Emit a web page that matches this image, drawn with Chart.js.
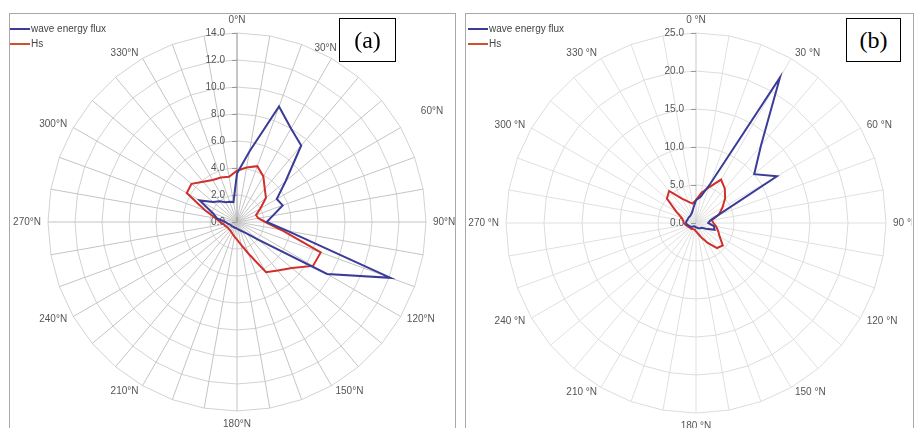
<!DOCTYPE html>
<html>
<head>
<meta charset="utf-8">
<script src="https://cdn.jsdelivr.net/npm/chart.js@4.4.0/dist/chart.umd.min.js"></script>
<style>
  body { margin: 0; background: #fff; width: 916px; height: 428px; overflow: hidden; position: relative;
         font-family: "Liberation Sans", Arial, sans-serif; }
  .panel { position: absolute; top: 13px; height: 430px; border: 1px solid #a8a8a8; box-sizing: border-box; }
  canvas { position: absolute; }
  .leg { position: absolute; font-size: 10px; color: #444; line-height: 12px; white-space: nowrap; }
  .sw { display: inline-block; width: 20px; height: 2px; vertical-align: middle; margin-right: 1px; }
  .tag { position: absolute; border: 1px solid #000; background: #fff; box-sizing: border-box;
         font: 24px "Liberation Serif", "Times New Roman", serif; color: #000;
         display: flex; align-items: center; justify-content: center; }
</style>
</head>
<body>
<div class="panel" style="left:9px;width:447px"></div>
<div class="panel" style="left:465px;width:449px"></div>

<canvas id="chartA" width="446" height="415" style="left:9px;top:13px"></canvas>
<canvas id="chartB" width="447" height="415" style="left:465px;top:13px"></canvas>

<div class="leg" style="left:10px;top:23px"><span class="sw" style="background:#3b3b98"></span>wave energy flux</div>
<div class="leg" style="left:10px;top:38px"><span class="sw" style="background:#d0502c"></span>Hs</div>
<div class="leg" style="left:468px;top:23px"><span class="sw" style="background:#3b3b98"></span>wave energy flux</div>
<div class="leg" style="left:468px;top:38px"><span class="sw" style="background:#d0502c"></span>Hs</div>

<div class="tag" style="left:339px;top:18px;width:57px;height:44px">(a)</div>
<div class="tag" style="left:846px;top:18px;width:55px;height:44px">(b)</div>

<script>
// wave directions (degrees from north), one spoke every 10 degrees
const directions = [0, 10, 20, 30, 40, 50, 60, 70, 80, 90, 100, 110, 120, 130, 140, 150, 160, 170,
                    180, 190, 200, 210, 220, 230, 240, 250, 260, 270, 280, 290, 300, 310, 320, 330, 340, 350];

// panel (a)
const fluxA = [3.6, 5.3, 9.1, 8.0, 7.4, 4.7, 3.4, 3.6, 2.7, 2.2, 3.8, 12.1, 7.7, 2.0, 1.1, 0.8, 0.65, 0.55,
               0.5, 0.45, 0.45, 0.45, 0.45, 0.5, 0.5, 0.55, 0.7, 0.85, 1.5, 1.9, 3.2, 2.3, 2.0, 1.7, 1.6, 1.5];
const hsA = [3.8, 4.1, 4.4, 3.9, 3.2, 2.8, 2.0, 1.5, 1.6, 2.1, 3.3, 6.6, 6.5, 5.3, 4.7, 4.3, 2.5, 1.7,
             1.3, 1.1, 0.95, 0.85, 0.8, 0.8, 0.8, 0.9, 1.0, 1.25, 1.6, 2.5, 4.3, 4.4, 3.9, 3.6, 3.5, 3.4];

// panel (b)
const fluxB = [3.0, 3.5, 5.5, 22.1, 13.3, 10.0, 12.3, 3.2, 1.9, 1.6, 2.4, 2.6, 1.5, 1.0, 0.9, 0.8, 0.7, 0.6,
               0.6, 0.5, 0.5, 0.5, 0.6, 0.8, 0.9, 1.0, 1.2, 1.3, 1.3, 1.2, 1.2, 1.2, 1.2, 1.3, 1.5, 2.0];
const hsB = [3.0, 4.0, 5.0, 6.6, 5.9, 5.0, 4.0, 3.2, 2.1, 2.3, 2.7, 3.1, 3.6, 4.6, 4.3, 3.0, 2.0, 1.4,
             1.1, 0.9, 0.9, 0.9, 1.0, 1.0, 1.1, 1.2, 1.4, 1.6, 1.7, 2.0, 3.0, 5.0, 5.5, 3.7, 3.0, 2.6];

const seriesNames = ['wave energy flux', 'Hs'];
const blue = '#3b3b98';
const red = '#d0302c';

// Excel-like labels: values to the left of the 0°N axis, direction names outside the rim
const axisText = {
    id: 'axisText',
    beforeDatasetsDraw(chart, args, opts) {
        const s = chart.scales.r;
        const ctx = chart.ctx;
        const nudge = opts.nudge || {};
        ctx.save();
        ctx.font = '10px "Liberation Sans", Arial, sans-serif';
        ctx.fillStyle = '#555';
        ctx.strokeStyle = '#999';
        ctx.lineWidth = 1;
        ctx.textAlign = 'right';
        ctx.textBaseline = 'middle';
        s.ticks.forEach(t => {
            const y = s.yCenter - s.getDistanceFromCenterForValue(t.value);
            ctx.fillText(t.value.toFixed(1), s.xCenter - 12, y);
            ctx.beginPath();
            ctx.moveTo(s.xCenter - 5, Math.round(y) + 0.5);
            ctx.lineTo(s.xCenter, Math.round(y) + 0.5);
            ctx.stroke();
        });
        ctx.textAlign = 'center';
        chart.data.labels.forEach((lab, i) => {
            if (!lab) return;
            const a = directions[i] * Math.PI / 180;
            const sin = Math.sin(a), cos = Math.cos(a);
            const w = ctx.measureText(lab).width;
            const d = s.drawingArea + 6;
            let x = s.xCenter + sin * d;
            let y = s.yCenter - cos * d;
            if (Math.abs(sin) > 0.1) x += Math.sign(sin) * (w / 2 + 1);
            else y -= Math.sign(cos) * 7;
            const n = nudge[directions[i]] || [0, 0];
            ctx.fillText(lab, x + n[0], y + n[1]);
        });
        ctx.restore();
    }
};

function makeChart(id, labelFmt, flux, hs, max, step, pad, spokeColor, axisColor, ringColor, nudge) {
    return new Chart(document.getElementById(id), {
        type: 'radar',
        data: {
            labels: directions.map(d => d % 30 === 0 ? labelFmt(d) : ''),
            datasets: [
                { label: seriesNames[0], data: flux, borderColor: blue, borderWidth: 2, fill: false, pointRadius: 0, tension: 0 },
                { label: seriesNames[1], data: hs, borderColor: red, borderWidth: 2, fill: false, pointRadius: 0, tension: 0 }
            ]
        },
        options: {
            responsive: false,
            animation: false,
            layout: { padding: pad },
            plugins: { legend: { display: false }, tooltip: { enabled: false }, axisText: { nudge: nudge } },
            scales: {
                r: {
                    min: 0,
                    max: max,
                    startAngle: 0,
                    ticks: { display: false, stepSize: step },
                    pointLabels: { display: false },
                    grid: { circular: false, color: ringColor, lineWidth: 1 },
                    angleLines: {
                        color: ctx => ctx.index === 0 ? axisColor : spokeColor,
                        lineWidth: 1
                    }
                }
            }
        },
        plugins: [axisText]
    });
}

// in (a) the 30°N and 60°N names sit slightly off their spokes, clear of the (a) box
makeChart('chartA', d => d + '°N', fluxA, hsA, 14, 2,
    { left: 39, right: 29, top: 20, bottom: 17 }, '#c4c4c4', '#8c8c8c', '#d2d2d2',
    { 30: [-21, -5], 60: [14, -13] });
makeChart('chartB', d => d + ' °N', fluxB, hsB, 25, 5,
    { left: 41, right: 26, top: 20, bottom: 15 }, '#e0e0e0', '#c8c8c8', '#dcdcdc', {});
</script>
</body>
</html>
